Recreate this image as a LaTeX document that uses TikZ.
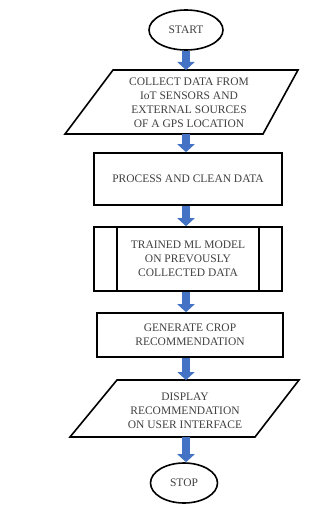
\documentclass[tikz,border=0pt]{standalone}
\usepackage{fontspec}
\setmainfont{Liberation Serif}
\usetikzlibrary{arrows.meta,shapes.geometric}
\definecolor{arrowblue}{RGB}{68,114,196}
\begin{document}
\begin{tikzpicture}[x=1pt,y=-1pt,
  box/.style={draw=black, line width=1.6pt},
  lbl/.style={text=black!75, font=\fontsize{11.5}{14}\selectfont, align=center, inner sep=0pt},
  flow/.style={draw=arrowblue, line width=7.5pt, -{Triangle[width=17pt,length=8pt]}}]
\useasboundingbox[fill=white] (0,0) rectangle (334,505);
% start
\node[box, ellipse, minimum width=74pt, minimum height=40pt, lbl] (start) at (186,30) {START};
% collect (parallelogram)
\coordinate (p1a) at (113,70); \coordinate (p1b) at (298,70);
\coordinate (p1c) at (263,134); \coordinate (p1d) at (65,134);
\draw[box] (p1a) -- (p1b) -- (p1c) -- (p1d) -- cycle;
\coordinate (p1n) at (186,70); \coordinate (p1s) at (186,134);
\node[lbl] (collect) at (189,103) {COLLECT DATA FROM\\IoT SENSORS AND\\EXTERNAL SOURCES\\OF A GPS LOCATION};
% process
\node[box, minimum width=188pt, minimum height=52pt, lbl] (process) at (188,179) {PROCESS AND CLEAN DATA};
% model (predefined process)
\node[box, minimum width=188pt, minimum height=64pt, lbl] (model) at (188,259) {TRAINED ML MODEL\\ON PREVOUSLY\\COLLECTED DATA};
\draw[box] ([xshift=24pt]model.north west) -- ([xshift=24pt]model.south west);
\draw[box] ([xshift=-24pt]model.north east) -- ([xshift=-24pt]model.south east);
% generate
\node[box, minimum width=186pt, minimum height=44pt, lbl] (generate) at (190,335) {GENERATE CROP\\RECOMMENDATION};
% display (parallelogram)
\coordinate (p2a) at (117,380); \coordinate (p2b) at (299,380);
\coordinate (p2c) at (255,437); \coordinate (p2d) at (70,437);
\draw[box] (p2a) -- (p2b) -- (p2c) -- (p2d) -- cycle;
\coordinate (p2n) at (186,380); \coordinate (p2s) at (186,437);
\node[lbl] (display) at (185,410.5) {DISPLAY\\RECOMMENDATION\\ON USER INTERFACE};
% stop
\node[box, ellipse, minimum width=67pt, minimum height=40pt, lbl] (stop) at (184,483) {STOP};
% arrows
\draw[flow] (start.south -| p1n) -- (p1n);
\draw[flow] (p1s) -- (process.north -| p1s);
\draw[flow] (process.south -| p1s) -- (model.north -| p1s);
\draw[flow] (model.south -| p1s) -- (generate.north -| p1s);
\draw[flow] (generate.south -| p1s) -- (p2n);
\draw[flow] (p2s) -- (p2s |- stop.north);
\end{tikzpicture}
\end{document}
